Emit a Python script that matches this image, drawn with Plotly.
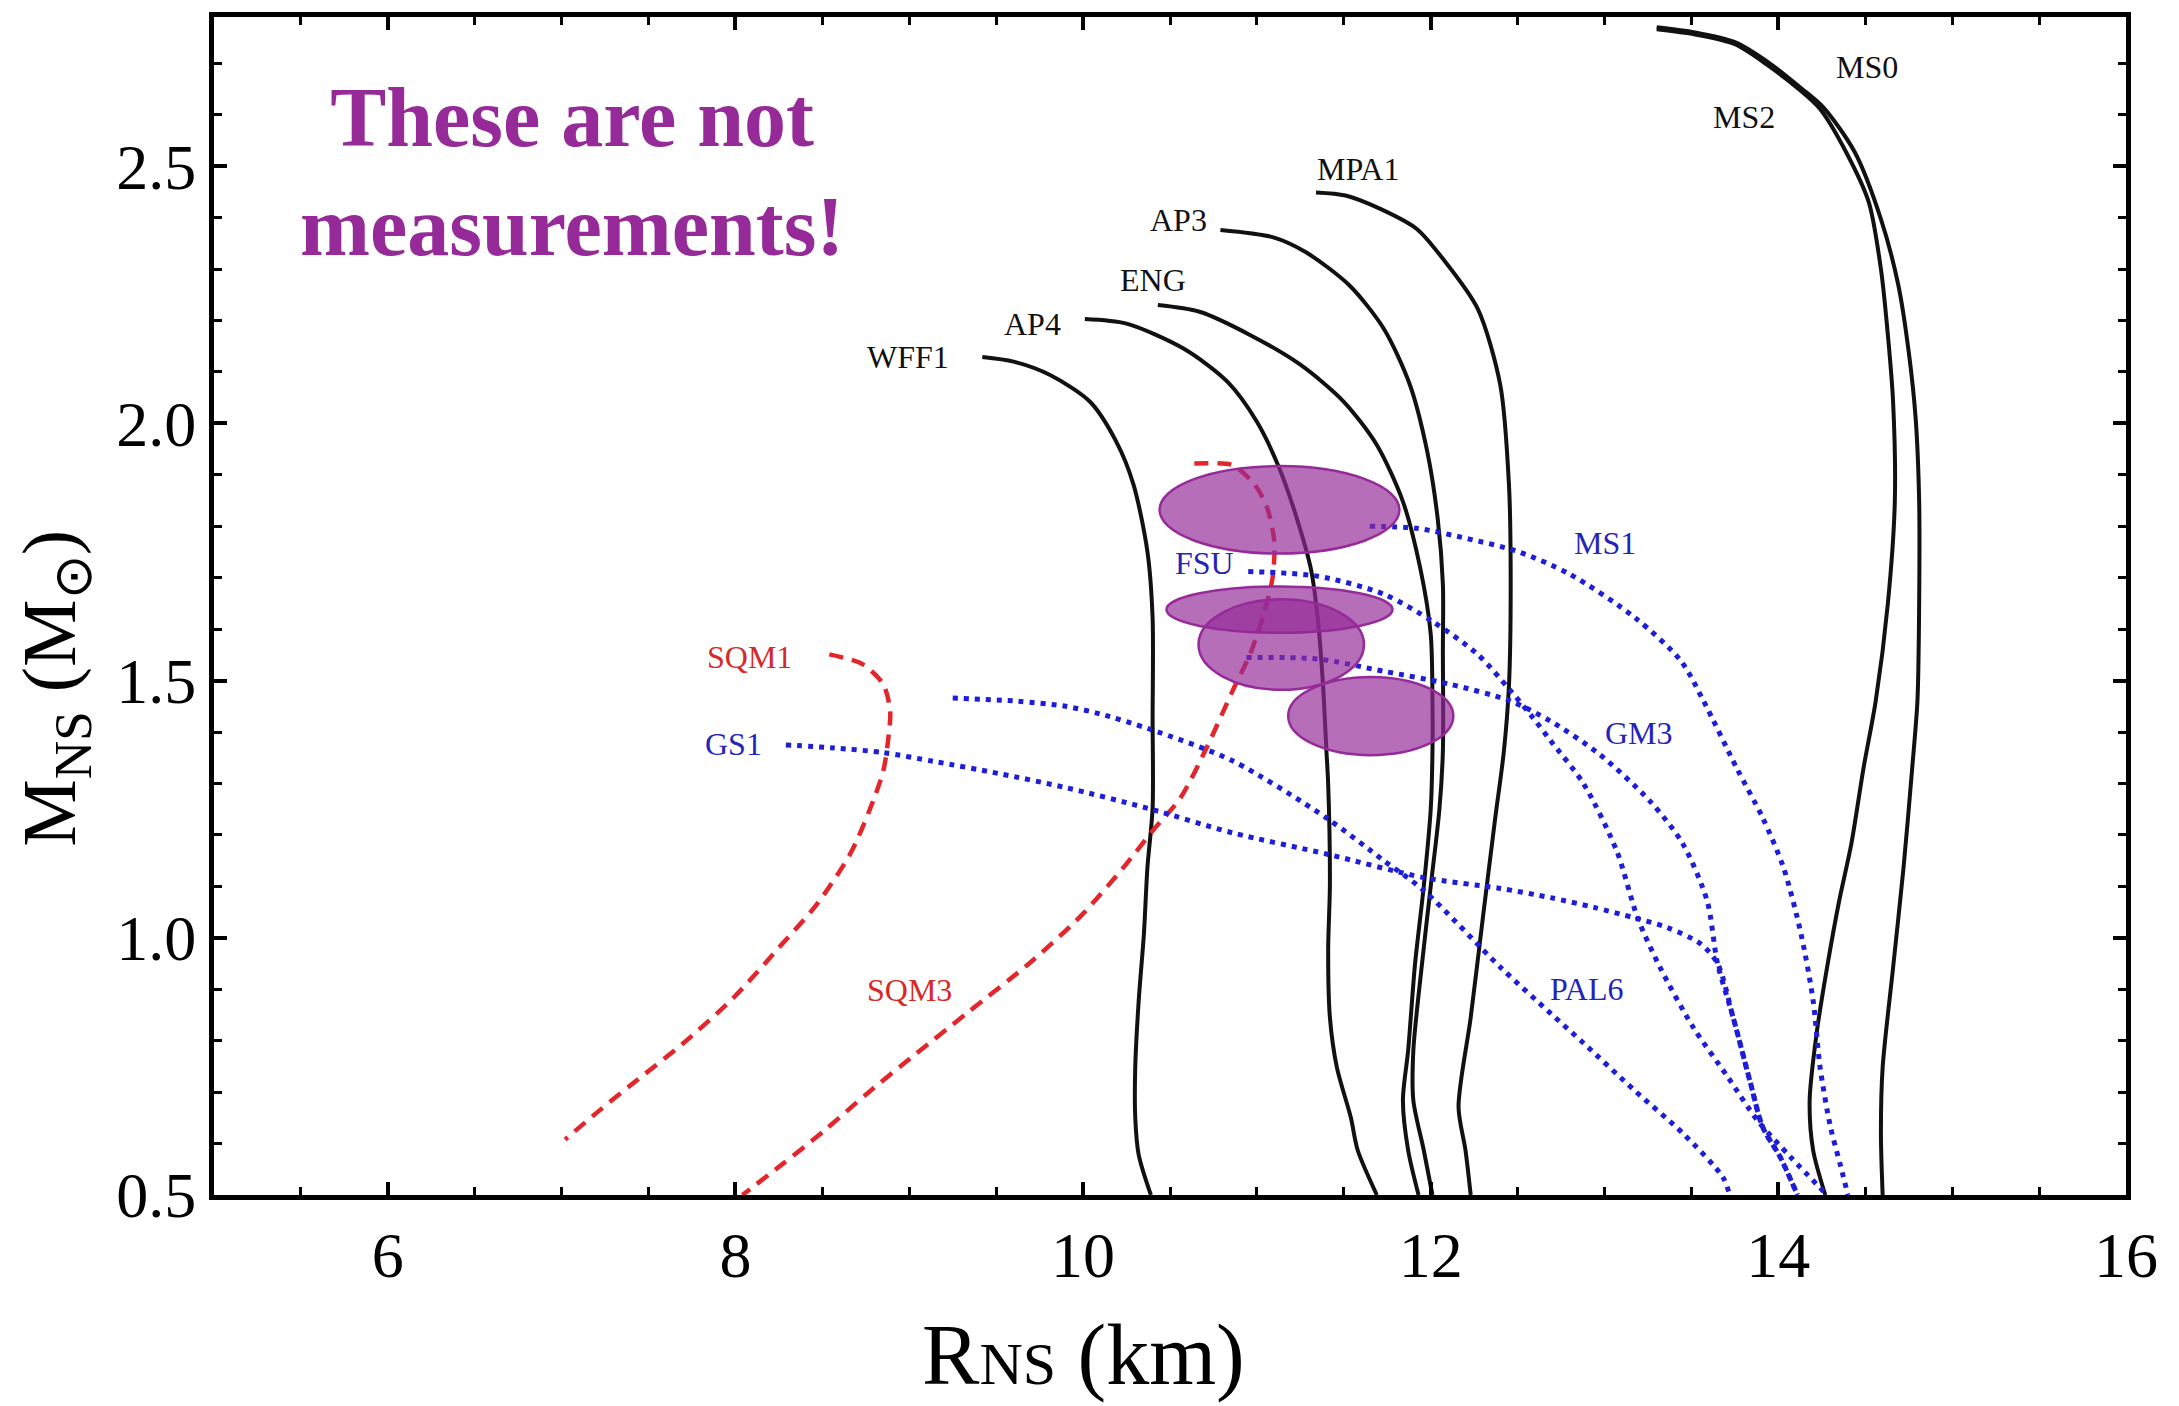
import plotly.graph_objects as go

# ---------------- data (radius in km, mass in solar masses) ----------------
# black solid: nucleonic EOS
WFF1_R = [9.42, 9.60, 9.81, 10.04, 10.19, 10.29, 10.37, 10.40, 10.40, 10.40, 10.37, 10.35, 10.32, 10.30, 10.30, 10.32, 10.39]
WFF1_M = [2.129, 2.120, 2.094, 2.042, 1.965, 1.881, 1.751, 1.621, 1.427, 1.253, 1.136, 1.008, 0.878, 0.748, 0.651, 0.578, 0.500]

AP4_R = [10.01, 10.25, 10.58, 10.83, 11.00, 11.13, 11.23, 11.31, 11.35, 11.38, 11.40, 11.41, 11.42, 11.41, 11.42, 11.46, 11.54, 11.58, 11.69]
AP4_M = [2.203, 2.194, 2.145, 2.081, 2.003, 1.912, 1.815, 1.718, 1.621, 1.493, 1.363, 1.299, 1.105, 0.975, 0.845, 0.748, 0.651, 0.587, 0.500]

ENG_R = [10.43, 10.67, 10.96, 11.25, 11.50, 11.69, 11.84, 11.94, 12.00, 12.01, 12.01, 12.00, 11.96, 11.91, 11.87, 11.84, 11.87, 11.93]
ENG_M = [2.230, 2.217, 2.172, 2.114, 2.042, 1.958, 1.848, 1.718, 1.590, 1.460, 1.363, 1.250, 1.100, 0.950, 0.781, 0.684, 0.587, 0.500]

AP3_R = [10.79, 11.09, 11.28, 11.53, 11.73, 11.88, 11.98, 12.04, 12.07, 12.07, 12.07, 12.05, 12.00, 11.95, 11.90, 11.90, 11.96, 12.01]
AP3_M = [2.376, 2.362, 2.333, 2.269, 2.184, 2.075, 1.945, 1.815, 1.687, 1.557, 1.363, 1.250, 1.100, 0.950, 0.781, 0.684, 0.587, 0.500]

MPA1_R = [11.34, 11.51, 11.71, 11.92, 12.07, 12.27, 12.40, 12.45, 12.46, 12.45, 12.42, 12.37, 12.30, 12.23, 12.16, 12.20, 12.23]
MPA1_M = [2.449, 2.443, 2.417, 2.378, 2.320, 2.223, 2.075, 1.881, 1.690, 1.490, 1.360, 1.230, 1.039, 0.845, 0.671, 0.587, 0.500]

MS2_R = [13.30, 13.52, 13.75, 13.94, 14.12, 14.24, 14.39, 14.52, 14.59, 14.63, 14.66, 14.67, 14.63, 14.56, 14.49, 14.42, 14.35, 14.28, 14.22, 14.18, 14.20, 14.27]
MS2_M = [2.766, 2.756, 2.737, 2.696, 2.649, 2.611, 2.527, 2.430, 2.300, 2.172, 2.042, 1.848, 1.650, 1.460, 1.330, 1.183, 1.072, 0.942, 0.814, 0.684, 0.587, 0.500]

MS0_R = [13.30, 13.52, 13.75, 13.95, 14.13, 14.26, 14.44, 14.59, 14.69, 14.75, 14.79, 14.81, 14.81, 14.80, 14.77, 14.72, 14.66, 14.60, 14.59, 14.60]
MS0_M = [2.770, 2.760, 2.741, 2.700, 2.652, 2.614, 2.527, 2.397, 2.269, 2.139, 2.009, 1.848, 1.650, 1.460, 1.330, 1.136, 0.942, 0.748, 0.620, 0.500]

# red dashed: strange quark matter
SQM1_R = [8.54, 8.73, 8.85, 8.89, 8.88, 8.85, 8.77, 8.66, 8.47, 8.25, 7.99, 7.70, 7.41, 7.22, 7.02]
SQM1_M = [1.551, 1.532, 1.493, 1.441, 1.389, 1.324, 1.247, 1.163, 1.066, 0.981, 0.884, 0.795, 0.717, 0.665, 0.608]

SQM3_R = [10.64, 10.85, 10.90, 10.99, 11.06, 11.10, 11.09, 11.04, 10.96, 10.86, 10.71, 10.56, 10.40, 10.25, 10.00, 9.71, 9.33, 9.04, 8.76, 8.50, 8.27, 8.04]
SQM3_M = [1.922, 1.920, 1.910, 1.880, 1.835, 1.770, 1.700, 1.630, 1.551, 1.480, 1.369, 1.272, 1.208, 1.144, 1.047, 0.956, 0.853, 0.775, 0.698, 0.622, 0.560, 0.500]

# blue dotted: hyperon / meson EOS
GS1_R = [8.29, 8.57, 8.85, 9.14, 9.52, 9.90, 10.38, 10.86, 11.40, 11.96, 12.40, 12.69, 12.94, 13.17, 13.36, 13.55, 13.65, 13.74, 13.84, 13.91, 14.01, 14.11]
GS1_M = [1.375, 1.369, 1.360, 1.343, 1.319, 1.292, 1.251, 1.204, 1.163, 1.117, 1.096, 1.078, 1.059, 1.039, 1.020, 0.989, 0.950, 0.845, 0.717, 0.632, 0.574, 0.500]

PAL6_R = [9.25, 9.62, 9.90, 10.10, 10.38, 10.86, 11.40, 11.73, 11.96, 12.40, 12.69, 12.88, 13.17, 13.45, 13.68, 13.72]
PAL6_M = [1.466, 1.460, 1.450, 1.435, 1.406, 1.344, 1.233, 1.150, 1.092, 0.943, 0.853, 0.795, 0.704, 0.620, 0.535, 0.500]

FSU_R = [10.95, 11.35, 11.73, 12.01, 12.27, 12.46, 12.59, 12.69, 12.88, 13.07, 13.19, 13.32, 13.51, 13.71, 13.88, 14.07, 14.28]
FSU_M = [1.712, 1.703, 1.668, 1.615, 1.551, 1.480, 1.427, 1.383, 1.299, 1.169, 1.039, 0.942, 0.826, 0.729, 0.645, 0.574, 0.500]

GM3_R = [10.94, 11.35, 11.73, 12.11, 12.46, 12.69, 12.97, 13.26, 13.45, 13.59, 13.65, 13.74, 13.84, 13.91, 14.01, 14.11]
GM3_M = [1.545, 1.542, 1.518, 1.493, 1.460, 1.421, 1.357, 1.266, 1.183, 1.072, 0.950, 0.845, 0.717, 0.632, 0.574, 0.500]

MS1_R = [11.65, 11.92, 12.21, 12.50, 12.80, 13.18, 13.44, 13.57, 13.76, 13.91, 14.03, 14.13, 14.20, 14.24, 14.30, 14.36, 14.40]
MS1_M = [1.800, 1.796, 1.776, 1.751, 1.707, 1.621, 1.538, 1.460, 1.330, 1.233, 1.136, 1.008, 0.878, 0.748, 0.632, 0.554, 0.500]

# illustrative ellipses: centre R, centre M, half-width (km), half-height (Msun)
ELL_CR = [11.13, 11.13, 11.14, 11.655]
ELL_CM = [1.832, 1.638, 1.570, 1.431]
ELL_RX = [0.690, 0.650, 0.476, 0.475]
ELL_RY = [0.085, 0.045, 0.088, 0.076]

# curve labels
LBL_TEXT = ["WFF1", "AP4", "ENG", "AP3", "MPA1", "MS2", "MS0",
            "SQM1", "SQM3",
            "GS1", "FSU", "MS1", "GM3", "PAL6"]
LBL_R = [8.99, 9.71, 10.40, 10.55, 11.58, 13.80, 14.51, 8.08, 9.00, 7.99, 10.70, 13.00, 13.20, 12.90]
LBL_M = [2.129, 2.193, 2.279, 2.395, 2.494, 2.595, 2.692, 1.546, 0.898, 1.377, 1.728, 1.767, 1.398, 0.900]
LBL_KIND = ["n"] * 7 + ["q"] * 2 + ["h"] * 5

X_TICKS = [6, 8, 10, 12, 14, 16]
Y_TICKS = [0.5, 1.0, 1.5, 2.0, 2.5]

# ---------------- styling ----------------
BLACK = "#111111"
RED = "#e3262b"
BLUE = "#1e1ed8"
PURPLE = "#952a98"
SERIF = "Liberation Serif, Times New Roman, serif"

fig = go.Figure()

black_curves = [(WFF1_R, WFF1_M), (AP4_R, AP4_M), (ENG_R, ENG_M), (AP3_R, AP3_M),
                (MPA1_R, MPA1_M), (MS2_R, MS2_M), (MS0_R, MS0_M)]
red_curves = [(SQM1_R, SQM1_M), (SQM3_R, SQM3_M)]
blue_curves = [(GS1_R, GS1_M), (PAL6_R, PAL6_M), (FSU_R, FSU_M), (GM3_R, GM3_M), (MS1_R, MS1_M)]

for r, m in black_curves:
    fig.add_trace(go.Scatter(x=r, y=m, mode="lines",
                             line=dict(color=BLACK, width=4, shape="spline", smoothing=0.8),
                             showlegend=False, hoverinfo="skip"))
for r, m in red_curves:
    fig.add_trace(go.Scatter(x=r, y=m, mode="lines",
                             line=dict(color=RED, width=4.5, dash="14px,9px", shape="spline", smoothing=0.8),
                             showlegend=False, hoverinfo="skip"))
for r, m in blue_curves:
    fig.add_trace(go.Scatter(x=r, y=m, mode="lines",
                             line=dict(color=BLUE, width=5, dash="5px,6px", shape="spline", smoothing=0.8),
                             showlegend=False, hoverinfo="skip"))

for cr, cm, rx, ry in zip(ELL_CR, ELL_CM, ELL_RX, ELL_RY):
    fig.add_shape(type="circle", xref="x", yref="y",
                  x0=cr - rx, x1=cr + rx, y0=cm - ry, y1=cm + ry,
                  fillcolor="rgba(149,42,152,0.68)", line=dict(color=PURPLE, width=2.5), layer="above")

kind_color = {"n": BLACK, "q": "#d62a2a", "h": "#2424b8"}
for t, r, m, k in zip(LBL_TEXT, LBL_R, LBL_M, LBL_KIND):
    fig.add_annotation(x=r, y=m, xref="x", yref="y", text=t, showarrow=False,
                       xanchor="center", yanchor="middle",
                       font=dict(family=SERIF, size=32, color=kind_color[k]))

fig.add_annotation(x=0.187, y=0.868, xref="paper", yref="paper",
                   text="<b>These are not<br>measurements!</b>", showarrow=False,
                   xanchor="center", yanchor="middle",
                   font=dict(family=SERIF, size=84, color=PURPLE), align="center")

fig.add_annotation(x=0.455, y=-0.136, xref="paper", yref="paper",
                   text="R<span style='font-size:60px'>NS</span> (km)", showarrow=False,
                   xanchor="center", yanchor="middle",
                   font=dict(family=SERIF, size=86, color="black"))
fig.add_annotation(x=-0.083, y=0.43, xref="paper", yref="paper",
                   text="M<sub>NS</sub> (M<sub>⊙</sub>)", showarrow=False, textangle=-90,
                   xanchor="center", yanchor="middle",
                   font=dict(family=SERIF, size=76, color="black"))

axis_common = dict(showgrid=False, zeroline=False, showline=True, linecolor="black", linewidth=5,
                   mirror="allticks", ticks="inside", tickcolor="black",
                   tickfont=dict(family=SERIF, size=64, color="black"))

fig.update_xaxes(range=[5, 16], tickvals=X_TICKS, ticklen=13, tickwidth=4,
                 minor=dict(dtick=0.5, tick0=0, ticks="inside", ticklen=8, tickwidth=3, tickcolor="black"),
                 **axis_common)
fig.update_yaxes(range=[0.5, 2.79], tickvals=Y_TICKS, tickformat=".1f", ticklen=13, tickwidth=4,
                 minor=dict(dtick=0.1, tick0=0, ticks="inside", ticklen=8, tickwidth=3, tickcolor="black"),
                 **axis_common)

fig.update_layout(width=2179, height=1406, margin=dict(l=214, r=53, t=14, b=211),
                  plot_bgcolor="white", paper_bgcolor="white", showlegend=False)

fig.write_html("out.html", config={"displayModeBar": False})
